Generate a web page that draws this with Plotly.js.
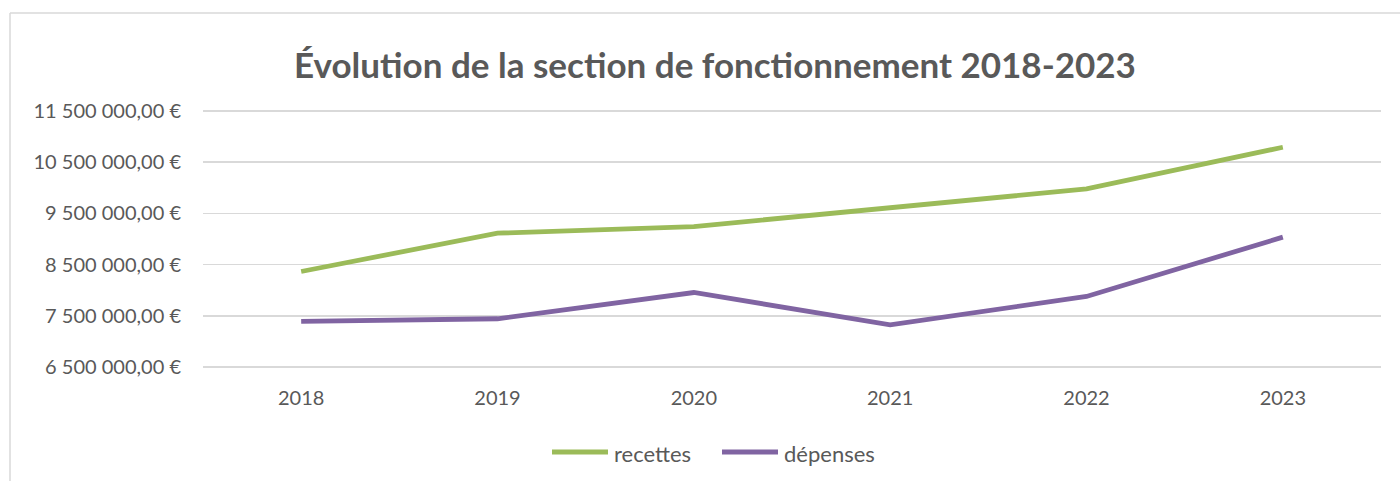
<!DOCTYPE html>
<html>
<head>
<meta charset="utf-8">
<script src="https://cdn.plot.ly/plotly-3.0.1.min.js"></script>
<style>html,body{margin:0;padding:0;background:#fff;}#chart{width:1400px;height:481px;}</style>
</head>
<body>
<div id="chart"></div>
<script>
const years = ["2018", "2019", "2020", "2021", "2022", "2023"];
const recettes = [8365000, 9114000, 9243000, 9621000, 9978000, 10792000];
const depenses = [7390000, 7442000, 7955000, 7325000, 7877000, 9036000];
const seriesNames = ["recettes", "dépenses"];
const seriesColors = ["#9BBB59", "#8064A2"];
const yTickVals = [6500000, 7500000, 8500000, 9500000, 10500000, 11500000];
const yTickText = ["6 500 000,00 €", "7 500 000,00 €", "8 500 000,00 €", "9 500 000,00 €", "10 500 000,00 €", "11 500 000,00 €"];
const titleText = "Évolution de la section de fonctionnement 2018-2023";

const W = 1400, H = 481;
const M = {l: 203, r: 19, t: 109, b: 112};
const pw = W - M.l - M.r, ph = H - M.t - M.b;
const px = x => (x - M.l) / pw;
const py = y => (H - M.b - y) / ph;
// pad the value range by ~2px each side so the first/last gridlines are drawn
const yMin = 6500000, yMax = 11500000;
const perPx = (yMax - yMin) / (ph - 4);
const yRange = [yMin - 2 * perPx, yMax + 2 * perPx];

const font = "Lato, 'Open Sans', sans-serif";
const textColor = "#595959";
const gridColor = "#D9D9D9";

const traces = [recettes, depenses].map((vals, i) => ({
  x: years, y: vals, type: "scatter", mode: "lines", name: seriesNames[i],
  line: {color: seriesColors[i], width: 4.8, shape: "linear"},
  showlegend: false, hoverinfo: "skip"
}));

// manual legend (Excel-like long line keys)
const legendItems = [{x0: 552, x1: 608, tx: 612}, {x0: 722, x1: 778, tx: 782}];
const legendY = 452;
const shapes = [
  {type: "line", xref: "paper", yref: "paper", x0: px(10), x1: px(10), y0: py(13), y1: py(H + 5), line: {color: gridColor, width: 1.5}},
  {type: "line", xref: "paper", yref: "paper", x0: px(10), x1: px(W + 5), y0: py(13), y1: py(13), line: {color: gridColor, width: 1.5}}
];
const annotations = [];
legendItems.forEach((it, i) => {
  shapes.push({type: "line", xref: "paper", yref: "paper", x0: px(it.x0), x1: px(it.x1), y0: py(legendY), y1: py(legendY), line: {color: seriesColors[i], width: 5}});
  annotations.push({xref: "paper", yref: "paper", x: px(it.tx), y: py(legendY + 1), xanchor: "left", yanchor: "middle", text: seriesNames[i], showarrow: false, font: {family: font, size: 22, color: textColor}});
});

const layout = {
  width: W, height: H,
  margin: M,
  paper_bgcolor: "#ffffff", plot_bgcolor: "#ffffff",
  title: {text: "<b>" + titleText + "</b>", x: 715 / W, xref: "container", xanchor: "center", y: 1 - 66 / H, yref: "container", yanchor: "middle",
    font: {family: font, size: 35, color: textColor}},
  xaxis: {type: "category", range: [-0.5, 5.5], showgrid: false, zeroline: false, showline: false, ticks: "",
    tickfont: {family: font, size: 20, color: textColor}, ticklabelstandoff: 15, fixedrange: true},
  yaxis: {range: yRange, tickmode: "array", tickvals: yTickVals, ticktext: yTickText,
    showgrid: true, gridcolor: gridColor, gridwidth: 1.5, zeroline: false, showline: false, ticks: "",
    tickfont: {family: font, size: 20, color: textColor}, ticklabelstandoff: 21, fixedrange: true},
  shapes: shapes,
  annotations: annotations
};

Plotly.newPlot("chart", traces, layout, {displayModeBar: false, staticPlot: true});
</script>
</body>
</html>
